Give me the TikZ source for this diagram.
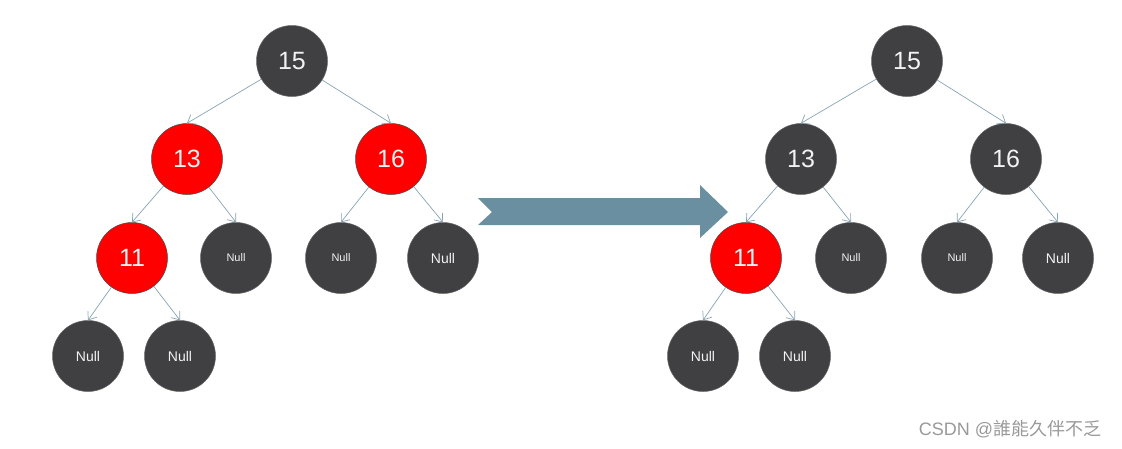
\documentclass[tikz,border=0pt]{standalone}
\usepackage{fontspec}
\setmainfont{Liberation Sans}
\newfontfamily\cjk{Noto Sans CJK TC}
\usepackage{tikz}
\usetikzlibrary{arrows.meta}

\definecolor{nodegray}{HTML}{404042}
\definecolor{nodered}{HTML}{FF0000}
\definecolor{edgeblue}{HTML}{88A3B2}
\definecolor{arrowblue}{HTML}{6A8FA0}

\begin{document}
\begin{tikzpicture}[x=1pt,y=-1pt,
    blacknode/.style={circle,fill=nodegray,draw=nodegray!80!white,line width=0.5pt,
      minimum size=71pt,inner sep=0pt,text=white!95!black,
      font=\fontsize{25}{25}\selectfont},
    rednode/.style={blacknode,fill=nodered,draw=black!70},
    nullsmall/.style={blacknode,font=\fontsize{11}{11}\selectfont},
    nullbig/.style={blacknode,font=\fontsize{14}{14}\selectfont},
    edge/.style={draw=edgeblue,line width=0.7pt,
      -{Straight Barb[length=7pt,width=11pt,line width=0.7pt]}}]
  \useasboundingbox (0,0) rectangle (1122,448);

  % left tree
  \node [blacknode] (l15) at (292,61) {15};
  \node [rednode] (l13) at (187,159) {13};
  \node [rednode] (l16) at (391,159) {16};
  \node [rednode] (l11) at (132,258) {11};
  \node [nullsmall] (ln1) at (236,258) {Null};
  \node [nullsmall] (ln2) at (341,258) {Null};
  \node [nullbig] (ln3) at (443,258) {Null};
  \node [nullbig] (ln4) at (88,356) {Null};
  \node [nullbig] (ln5) at (180,356) {Null};
  \draw [edge] (l15) -- (l13.north);
  \draw [edge] (l15) -- (l16.north);
  \draw [edge] (l13) -- (l11.north);
  \draw [edge] (l13) -- (ln1.north);
  \draw [edge] (l16) -- (ln2.north);
  \draw [edge] (l16) -- (ln3.north);
  \draw [edge] (l11) -- (ln4.north);
  \draw [edge] (l11) -- (ln5.north);

  % big arrow
  \fill [arrowblue] (478,198) -- (700,198) -- (700,185) -- (728,212)
    -- (700,238) -- (700,225) -- (478,225) -- (492,212) -- cycle;

  % right tree
  \node [blacknode] (r15) at (907,61) {15};
  \node [blacknode] (r13) at (801,159) {13};
  \node [blacknode] (r16) at (1006,159) {16};
  \node [rednode] (r11) at (746,258) {11};
  \node [nullsmall] (rn1) at (851,258) {Null};
  \node [nullsmall] (rn2) at (957,258) {Null};
  \node [nullbig] (rn3) at (1058,258) {Null};
  \node [nullbig] (rn4) at (703,356) {Null};
  \node [nullbig] (rn5) at (795,356) {Null};
  \draw [edge] (r15) -- (r13.north);
  \draw [edge] (r15) -- (r16.north);
  \draw [edge] (r13) -- (r11.north);
  \draw [edge] (r13) -- (rn1.north);
  \draw [edge] (r16) -- (rn2.north);
  \draw [edge] (r16) -- (rn3.north);
  \draw [edge] (r11) -- (rn4.north);
  \draw [edge] (r11) -- (rn5.north);

  \node [text=black!40,font=\fontsize{18}{18}\selectfont] (mark) at (1010,429) {CSDN @{\cjk 誰能久伴不乏}};
\end{tikzpicture}
\end{document}
